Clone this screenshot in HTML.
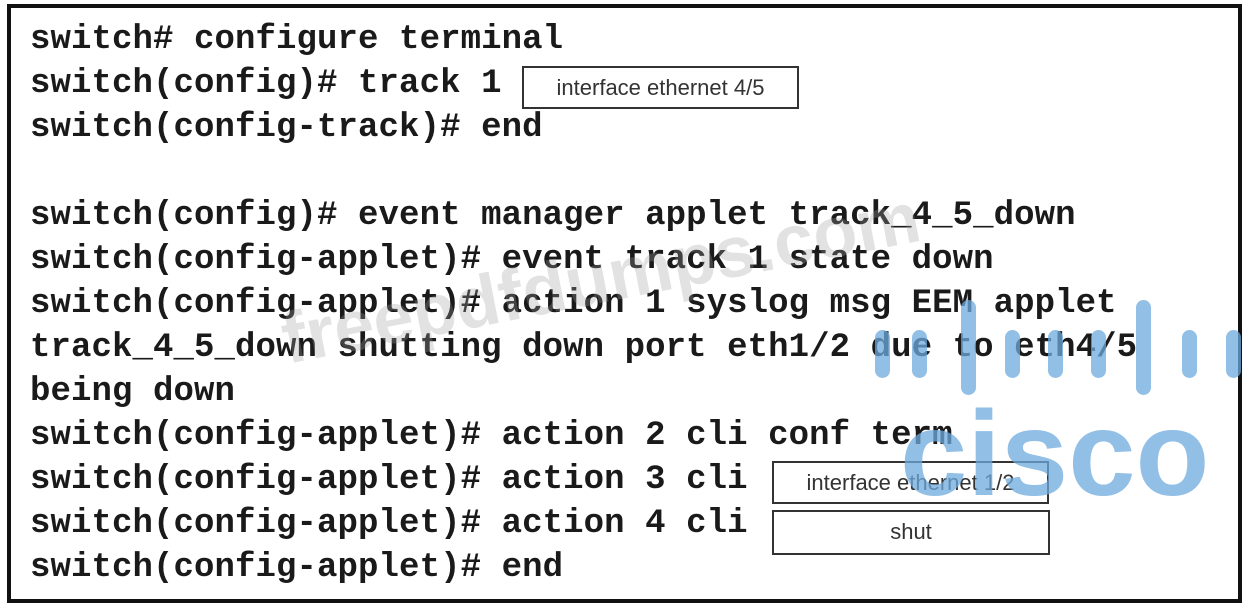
<!DOCTYPE html>
<html><head><meta charset="utf-8"><style>
body{margin:0;width:1246px;height:608px;background:#fff;position:relative;overflow:hidden}
.frame{position:absolute;left:7px;top:4px;width:1227px;height:591px;border:4px solid #111}
.l{position:absolute;left:30px;font:bold 34px "Liberation Mono",monospace;letter-spacing:0.1px;color:#1a1a1a;white-space:pre;line-height:40px}
.box{position:absolute;border:2px solid #333;font:22px "Liberation Sans",sans-serif;color:#333;text-align:center;box-sizing:border-box;line-height:40px}
.bar{position:absolute;width:15px;border-radius:8px;background:rgba(110,170,220,0.75)}
.wm{position:absolute;left:275px;top:300px;font:bold 72px "Liberation Sans",sans-serif;color:rgba(160,160,160,0.3);transform:rotate(-11deg);transform-origin:left top;white-space:nowrap}
.cisco{position:absolute;left:900px;top:393px;font:bold 121px "Liberation Sans",sans-serif;color:rgba(110,170,220,0.75);line-height:121px}
</style></head><body>
<div class="frame"></div>
<div class="l" style="top:20px">switch# configure terminal</div>
<div class="l" style="top:64px">switch(config)# track 1</div>
<div class="l" style="top:108px">switch(config-track)# end</div>
<div class="l" style="top:196px">switch(config)# event manager applet track_4_5_down</div>
<div class="l" style="top:240px">switch(config-applet)# event track 1 state down</div>
<div class="l" style="top:284px">switch(config-applet)# action 1 syslog msg EEM applet</div>
<div class="l" style="top:328px">track_4_5_down shutting down port eth1/2 due to eth4/5</div>
<div class="l" style="top:372px">being down</div>
<div class="l" style="top:416px">switch(config-applet)# action 2 cli conf term</div>
<div class="l" style="top:460px">switch(config-applet)# action 3 cli</div>
<div class="l" style="top:504px">switch(config-applet)# action 4 cli</div>
<div class="l" style="top:548px">switch(config-applet)# end</div>
<div class="box" style="left:522px;top:66px;width:277px;height:43px">interface ethernet 4/5</div>
<div class="box" style="left:772px;top:461px;width:277px;height:43px">interface ethernet 1/2</div>
<div class="box" style="left:772px;top:510px;width:278px;height:45px">shut</div>
<div class="wm">freepdfdumps.com</div>
<div class="bar" style="left:875px;top:330px;height:48px"></div>
<div class="bar" style="left:912px;top:330px;height:48px"></div>
<div class="bar" style="left:961px;top:300px;height:95px"></div>
<div class="bar" style="left:1005px;top:330px;height:48px"></div>
<div class="bar" style="left:1048px;top:330px;height:48px"></div>
<div class="bar" style="left:1091px;top:330px;height:48px"></div>
<div class="bar" style="left:1136px;top:300px;height:95px"></div>
<div class="bar" style="left:1182px;top:330px;height:48px"></div>
<div class="bar" style="left:1226px;top:330px;height:48px"></div>
<div class="cisco">cisco</div>
</body></html>
